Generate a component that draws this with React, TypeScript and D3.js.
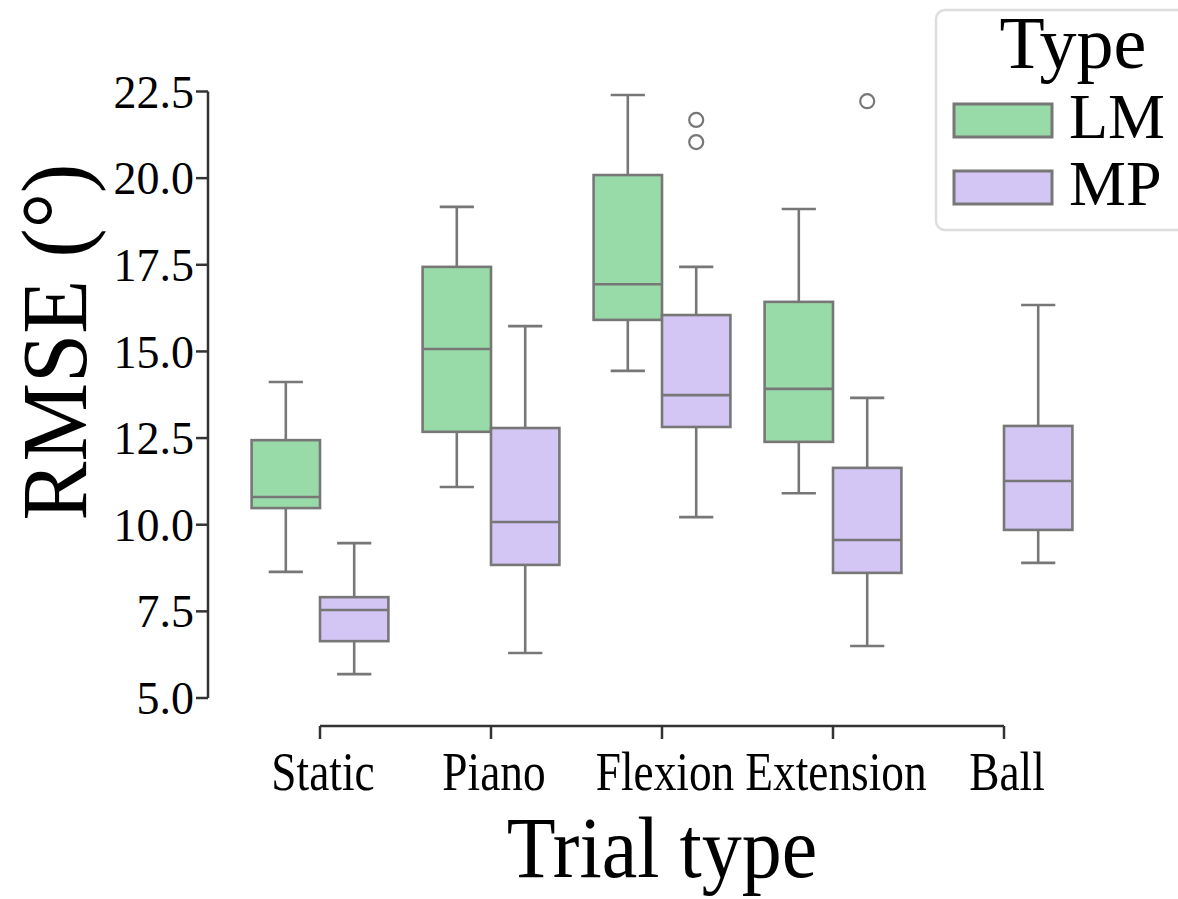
import React from 'react'
import * as d3 from 'd3'

// trial types on the x axis, hue levels in the legend
const categories = ['Static', 'Piano', 'Flexion', 'Extension', 'Ball']
const types = ['LM', 'MP']
const yTicks = [5.0, 7.5, 10.0, 12.5, 15.0, 17.5, 20.0, 22.5]

// five-number summaries (null = no data for that trial)
const lmLow = [8.64, 11.09, 14.44, 10.91, null]
const lmQ1 = [10.48, 12.68, 15.91, 12.39, null]
const lmMedian = [10.8, 15.07, 16.94, 13.92, null]
const lmQ3 = [12.44, 17.44, 20.09, 16.43, null]
const lmHigh = [14.12, 19.17, 22.4, 19.11, null]
const lmOutliers = [[], [], [], [], []]

const mpLow = [5.69, 6.3, 10.22, 6.5, 8.9]
const mpQ1 = [6.64, 8.84, 12.82, 8.61, 9.85]
const mpMedian = [7.54, 10.08, 13.74, 9.56, 11.26]
const mpQ3 = [7.91, 12.79, 16.05, 11.64, 12.85]
const mpHigh = [9.47, 15.73, 17.44, 13.66, 16.34]
const mpOutliers = [[], [], [21.04, 21.68], [22.22], []]

const colors = { LM: '#98daa8', MP: '#d3c5f4' }
const edge = '#777777'
const spine = '#333333'
const font = '"Liberation Serif", "Times New Roman", serif'

const series = [
    { type: 'LM', low: lmLow, q1: lmQ1, med: lmMedian, q3: lmQ3, high: lmHigh, out: lmOutliers },
    { type: 'MP', low: mpLow, q1: mpQ1, med: mpMedian, q3: mpQ3, high: mpHigh, out: mpOutliers },
]

export default function App() {
    const x = d3.scalePoint().domain(categories).range([320, 1004])
    const y = d3.scaleLinear().domain([5, 22.5]).range([698, 91.5])
    const step = x.step()
    const boxW = (step * 0.8) / types.length
    const hue = d3.scaleBand().domain(types).range([-step * 0.4, step * 0.4])

    return (
        <svg width={1178} height={899} style={{ position: 'absolute', left: 0, top: 0, background: '#fff' }}
            fontFamily={font}>
            {/* y axis, trimmed */}
            <line x1={208} x2={208} y1={y(22.5)} y2={y(5)} stroke={spine} strokeWidth={2.5} />
            {yTicks.map(t => (
                <g key={t}>
                    <line x1={196} x2={208} y1={y(t)} y2={y(t)} stroke={spine} strokeWidth={2.5} />
                    <text x={194} y={y(t)} dy="0.35em" textAnchor="end" fontSize={46}>{t.toFixed(1)}</text>
                </g>
            ))}
            <text transform={`translate(86,342) rotate(-90) scale(0.95,1)`} textAnchor="middle" fontSize={93}>RMSE (°)</text>

            {/* x axis, trimmed and offset */}
            <line x1={x(categories[0])} x2={x(categories[categories.length - 1])} y1={726} y2={726}
                stroke={spine} strokeWidth={2.5} />
            {categories.map(c => (
                <g key={c}>
                    <line x1={x(c)} x2={x(c)} y1={726} y2={739} stroke={spine} strokeWidth={2.5} />
                    <text transform={`translate(${x(c) + 3},790) scale(0.84,1)`} textAnchor="middle" fontSize={54}>{c}</text>
                </g>
            ))}
            <text transform={`translate(662,877) scale(0.92,1)`} textAnchor="middle" fontSize={87}>Trial type</text>

            {/* boxes */}
            {series.map(s => categories.map((c, i) => {
                if (s.q1[i] == null) return null
                const cx = x(c) + hue(s.type) + hue.bandwidth() / 2
                const left = cx - boxW / 2
                return (
                    <g key={s.type + c} stroke={edge} strokeWidth={2.6}>
                        <line x1={cx} x2={cx} y1={y(s.low[i])} y2={y(s.q1[i])} />
                        <line x1={cx} x2={cx} y1={y(s.q3[i])} y2={y(s.high[i])} />
                        <line x1={cx - boxW / 4} x2={cx + boxW / 4} y1={y(s.low[i])} y2={y(s.low[i])} />
                        <line x1={cx - boxW / 4} x2={cx + boxW / 4} y1={y(s.high[i])} y2={y(s.high[i])} />
                        <rect x={left} y={y(s.q3[i])} width={boxW} height={y(s.q1[i]) - y(s.q3[i])}
                            fill={colors[s.type]} />
                        <line x1={left} x2={left + boxW} y1={y(s.med[i])} y2={y(s.med[i])} />
                        {s.out[i].map(v => (
                            <circle key={v} cx={cx} cy={y(v)} r={7} fill="none" strokeWidth={2.2} />
                        ))}
                    </g>
                )
            }))}

            {/* legend */}
            <rect x={936} y={10} width={260} height={220} rx={9} fill="#fff" fillOpacity={0.8}
                stroke="#dddddd" strokeWidth={2.5} />
            <text x={1073} y={68} textAnchor="middle" fontSize={74}>Type</text>
            {types.map((t, i) => (
                <g key={t}>
                    <rect x={954} y={104 + i * 67} width={98} height={33} fill={colors[t]} stroke={edge} strokeWidth={3} />
                    <text x={1069} y={138 + i * 67} fontSize={64}>{t}</text>
                </g>
            ))}
        </svg>
    )
}
